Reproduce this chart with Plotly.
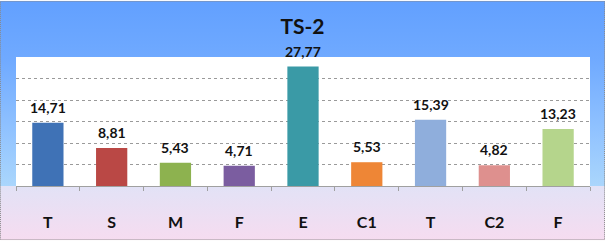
import base64
import plotly.graph_objects as go

categories = ["T", "S", "M", "F", "E", "C1", "T", "C2", "F"]
values = [14.71, 8.81, 5.43, 4.71, 27.77, 5.53, 15.39, 4.82, 13.23]
bar_colors = ["#3F72B6", "#BA4845", "#8DB24F", "#7B5DA0", "#3A9AA6",
              "#EE8636", "#8FAEDC", "#DE908E", "#B5D58C"]
title_text = "TS-2"

W, H = 605, 243
ml, mr, mt, mb = 16, 15, 57, 55
pw, ph = W - ml - mr, H - mt - mb

def px_to_paper_y(y):
    return (H - mb - y) / ph

def px_to_paper_x(x):
    return (x - ml) / pw

# background gradient (offset fraction of height, colour)
stops = [(0.0, "#62A0FF"), (60 / H, "#70AAFF"), (130 / H, "#90C2FF"),
         (188 / H, "#AAD6FC"), (188.01 / H, "#E2E2F6"), (1.0, "#F6DCF0")]
stop_xml = "".join('<stop offset="%.5f" stop-color="%s"/>' % s for s in stops)
svg = ('<svg xmlns="http://www.w3.org/2000/svg" width="%d" height="%d" viewBox="0 0 %d %d" '
       'preserveAspectRatio="none">'
       '<defs><linearGradient id="g" x1="0" y1="0" x2="0" y2="1">%s</linearGradient></defs>'
       '<rect x="0" y="0" width="%d" height="%d" fill="url(#g)"/>'
       '<rect x="%d" y="%d" width="%d" height="%d" fill="#FFFFFF"/>'
       '<rect x="0.5" y="0.5" width="%d" height="%d" fill="none" stroke="#8A8A8A" '
       'stroke-width="1" stroke-dasharray="1,1"/>'
       '</svg>') % (W, H, W, H, stop_xml, W, H, ml, mt, pw, ph, W - 1, H - 1)
bg_uri = "data:image/svg+xml;base64," + base64.b64encode(svg.encode()).decode()

x = list(range(len(categories)))

fig = go.Figure(go.Bar(
    x=x, y=values, width=0.49,
    marker=dict(color=bar_colors, line=dict(width=0)),
    cliponaxis=False,
))

annotations = [
    dict(x=xi, y=v, xref="x", yref="y", text="<b>%s</b>" % ("%.2f" % v).replace(".", ","),
         showarrow=False, yanchor="bottom", yshift=5,
         font=dict(family="Lato", size=14, color="#111111"))
    for xi, v in zip(x, values)
]

fig.update_layout(
    width=W, height=H,
    margin=dict(l=ml, r=mr, t=mt, b=mb, pad=0),
    paper_bgcolor="rgba(0,0,0,0)", plot_bgcolor="rgba(0,0,0,0)",
    showlegend=False,
    images=[dict(source=bg_uri, xref="paper", yref="paper",
                 x=px_to_paper_x(0), y=px_to_paper_y(0),
                 sizex=W / pw, sizey=H / ph, xanchor="left", yanchor="top",
                 sizing="stretch", layer="below")],
    annotations=annotations,
    title=dict(text="<b>%s</b>" % title_text, x=0.5, xanchor="center",
               y=1 - 27 / H, yanchor="middle",
               font=dict(family="Lato", size=21, color="#111111")),
    xaxis=dict(range=[-0.5, len(categories) - 0.5], tickvals=x,
               ticktext=["<b>%s</b>" % c for c in categories],
               ticks="", showgrid=False, zeroline=False,
               showline=True, linecolor="#A0A0A0", linewidth=1,
               ticklabelstandoff=22,
               tickfont=dict(family="Lato", size=16, color="#111111"),
               minor=dict(tickvals=[i - 0.5 for i in range(len(categories) + 1)],
                          ticks="outside", ticklen=4, tickcolor="#A0A0A0", showgrid=False)),
    yaxis=dict(range=[0, 30], tickvals=[5, 10, 15, 20, 25], showticklabels=False,
               showgrid=True, gridcolor="#9A9A9A", griddash="dot", gridwidth=1,
               zeroline=False, showline=False, ticks=""),
)

fig.write_html("out.html")
